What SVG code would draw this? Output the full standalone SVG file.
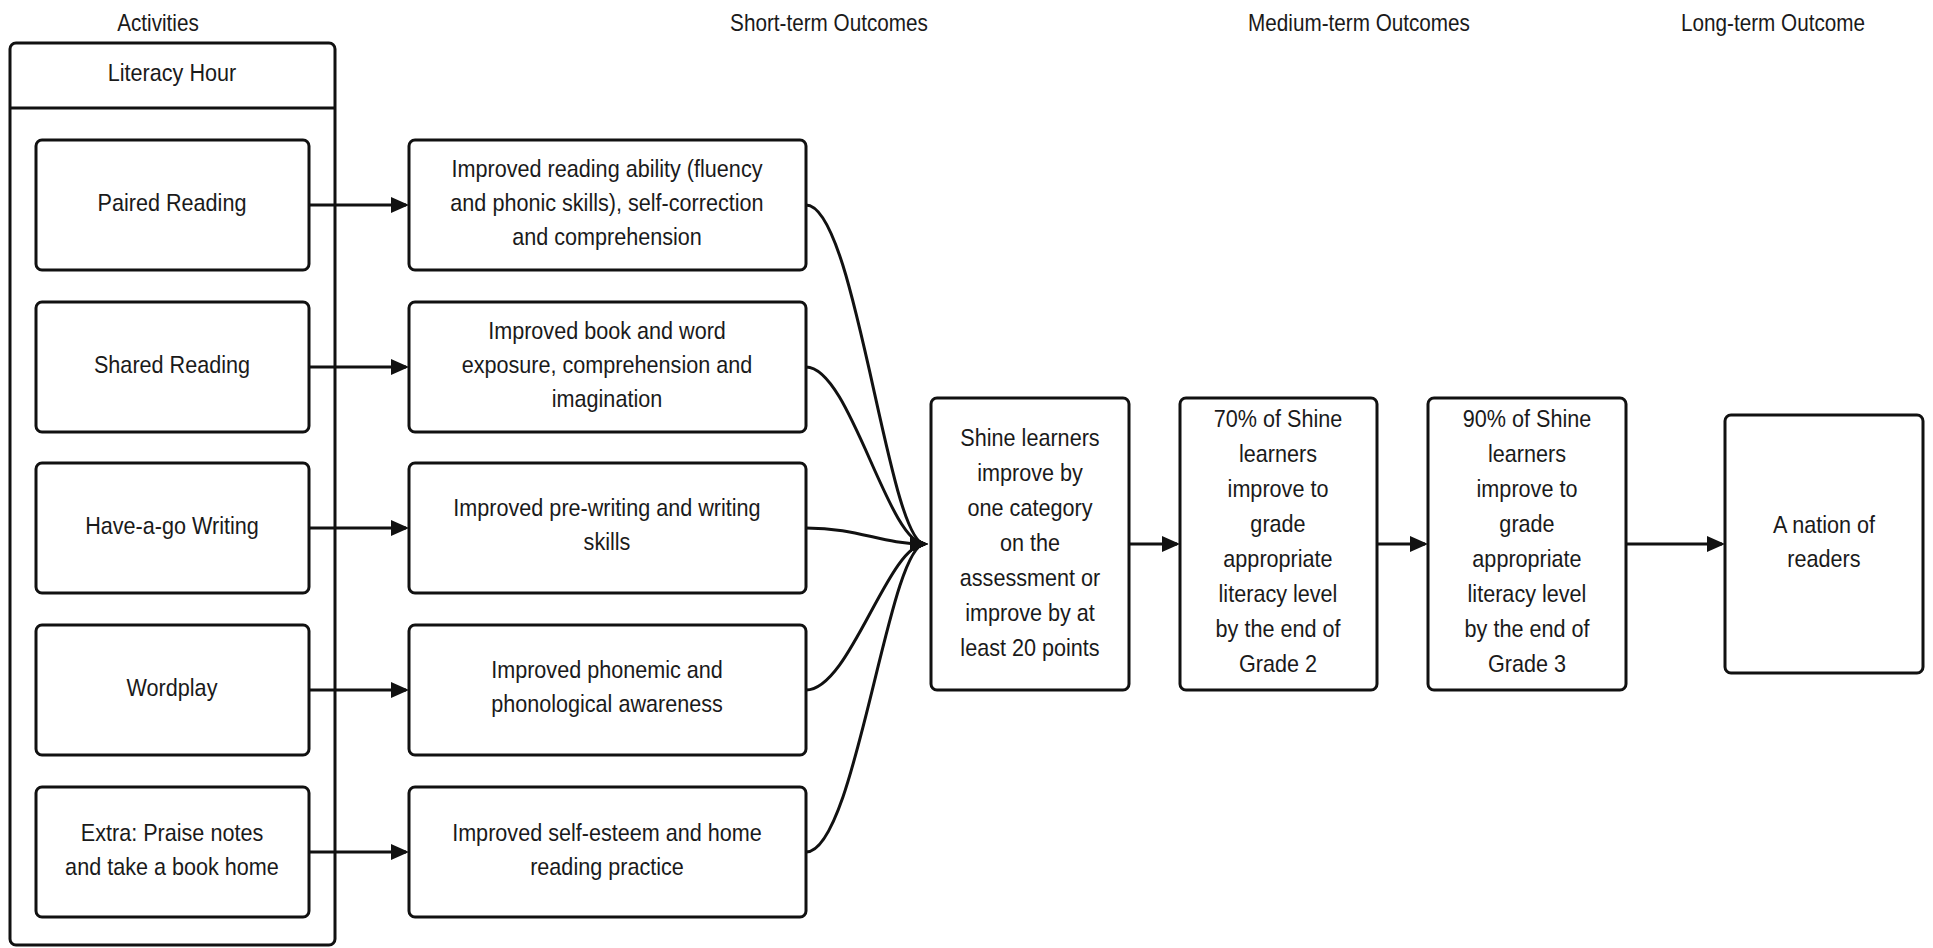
<svg xmlns="http://www.w3.org/2000/svg" width="1933" height="948" viewBox="0 0 1933 948">
<defs>
<style>
.t,.h{font-family:"Liberation Sans",Arial,sans-serif;fill:#1a1a1a;text-anchor:middle;transform-box:fill-box;transform-origin:center;transform:scaleX(0.9)}
.t{font-size:24px}
.h{font-size:23px}
.box{fill:#fff;stroke:#111;stroke-width:3}
.c{fill:none;stroke:#111;stroke-width:3}
</style>
<marker id="ah" markerUnits="userSpaceOnUse" markerWidth="20" markerHeight="18" refX="15" refY="8" orient="auto">
<path d="M0,0 L18,8 L0,16 z" fill="#111"/>
</marker>
</defs>
<rect width="1933" height="948" fill="#fff"/>
<g id="headers">
<text class="h" x="158" y="31">Activities</text>
<text class="h" x="829" y="31">Short-term Outcomes</text>
<text class="h" x="1359" y="31">Medium-term Outcomes</text>
<text class="h" x="1773" y="31">Long-term Outcome</text>
</g>
<g id="literacy-hour">
<rect class="box" x="10" y="43" width="325" height="902" rx="6"/>
<line x1="10" y1="108" x2="335" y2="108" stroke="#111" stroke-width="3"/>
<text class="t" x="172" y="81">Literacy Hour</text>
</g>
<g id="paired-reading">
<rect class="box" x="36" y="140" width="273" height="130" rx="6"/>
<text class="t" x="172" y="211">Paired Reading</text>
</g>
<g id="shared-reading">
<rect class="box" x="36" y="302" width="273" height="130" rx="6"/>
<text class="t" x="172" y="373">Shared Reading</text>
</g>
<g id="have-a-go-writing">
<rect class="box" x="36" y="463" width="273" height="130" rx="6"/>
<text class="t" x="172" y="534">Have-a-go Writing</text>
</g>
<g id="wordplay">
<rect class="box" x="36" y="625" width="273" height="130" rx="6"/>
<text class="t" x="172" y="696">Wordplay</text>
</g>
<g id="extra">
<rect class="box" x="36" y="787" width="273" height="130" rx="6"/>
<text class="t" x="172" y="841">Extra: Praise notes</text>
<text class="t" x="172" y="875">and take a book home</text>
</g>
<g id="st1">
<rect class="box" x="409" y="140" width="397" height="130" rx="6"/>
<text class="t" x="607" y="177">Improved reading ability (fluency</text>
<text class="t" x="607" y="211">and phonic skills), self-correction</text>
<text class="t" x="607" y="245">and comprehension</text>
</g>
<g id="st2">
<rect class="box" x="409" y="302" width="397" height="130" rx="6"/>
<text class="t" x="607" y="339">Improved book and word</text>
<text class="t" x="607" y="373">exposure, comprehension and</text>
<text class="t" x="607" y="407">imagination</text>
</g>
<g id="st3">
<rect class="box" x="409" y="463" width="397" height="130" rx="6"/>
<text class="t" x="607" y="516">Improved pre-writing and writing</text>
<text class="t" x="607" y="550">skills</text>
</g>
<g id="st4">
<rect class="box" x="409" y="625" width="397" height="130" rx="6"/>
<text class="t" x="607" y="678">Improved phonemic and</text>
<text class="t" x="607" y="712">phonological awareness</text>
</g>
<g id="st5">
<rect class="box" x="409" y="787" width="397" height="130" rx="6"/>
<text class="t" x="607" y="841">Improved self-esteem and home</text>
<text class="t" x="607" y="875">reading practice</text>
</g>
<g id="mt1">
<rect class="box" x="931" y="398" width="198" height="292" rx="6"/>
<text class="t" x="1030" y="446">Shine learners</text>
<text class="t" x="1030" y="481">improve by</text>
<text class="t" x="1030" y="516">one category</text>
<text class="t" x="1030" y="551">on the</text>
<text class="t" x="1030" y="586">assessment or</text>
<text class="t" x="1030" y="621">improve by at</text>
<text class="t" x="1030" y="656">least 20 points</text>
</g>
<g id="mt2">
<rect class="box" x="1180" y="398" width="197" height="292" rx="6"/>
<text class="t" x="1278" y="427">70% of Shine</text>
<text class="t" x="1278" y="462">learners</text>
<text class="t" x="1278" y="497">improve to</text>
<text class="t" x="1278" y="532">grade</text>
<text class="t" x="1278" y="567">appropriate</text>
<text class="t" x="1278" y="602">literacy level</text>
<text class="t" x="1278" y="637">by the end of</text>
<text class="t" x="1278" y="672">Grade 2</text>
</g>
<g id="mt3">
<rect class="box" x="1428" y="398" width="198" height="292" rx="6"/>
<text class="t" x="1527" y="427">90% of Shine</text>
<text class="t" x="1527" y="462">learners</text>
<text class="t" x="1527" y="497">improve to</text>
<text class="t" x="1527" y="532">grade</text>
<text class="t" x="1527" y="567">appropriate</text>
<text class="t" x="1527" y="602">literacy level</text>
<text class="t" x="1527" y="637">by the end of</text>
<text class="t" x="1527" y="672">Grade 3</text>
</g>
<g id="lt1">
<rect class="box" x="1725" y="415" width="198" height="258" rx="6"/>
<text class="t" x="1824" y="533">A nation of</text>
<text class="t" x="1824" y="567">readers</text>
</g>
<g id="connectors">
<line class="c" x1="309" y1="205" x2="406" y2="205" marker-end="url(#ah)"/>
<line class="c" x1="309" y1="367" x2="406" y2="367" marker-end="url(#ah)"/>
<line class="c" x1="309" y1="528" x2="406" y2="528" marker-end="url(#ah)"/>
<line class="c" x1="309" y1="690" x2="406" y2="690" marker-end="url(#ah)"/>
<line class="c" x1="309" y1="852" x2="406" y2="852" marker-end="url(#ah)"/>
<path class="c" d="M806,205 C856,205 888,544 925,544" marker-end="url(#ah)"/>
<path class="c" d="M806,367 C850,367 888,544 925,544" marker-end="url(#ah)"/>
<path class="c" d="M806,528 C860,528 880,544 925,544" marker-end="url(#ah)"/>
<path class="c" d="M806,690 C850,690 888,544 925,544" marker-end="url(#ah)"/>
<path class="c" d="M806,852 C856,852 888,544 925,544" marker-end="url(#ah)"/>
<line class="c" x1="1129" y1="544" x2="1177" y2="544" marker-end="url(#ah)"/>
<line class="c" x1="1377" y1="544" x2="1425" y2="544" marker-end="url(#ah)"/>
<line class="c" x1="1626" y1="544" x2="1722" y2="544" marker-end="url(#ah)"/>
</g>
</svg>
